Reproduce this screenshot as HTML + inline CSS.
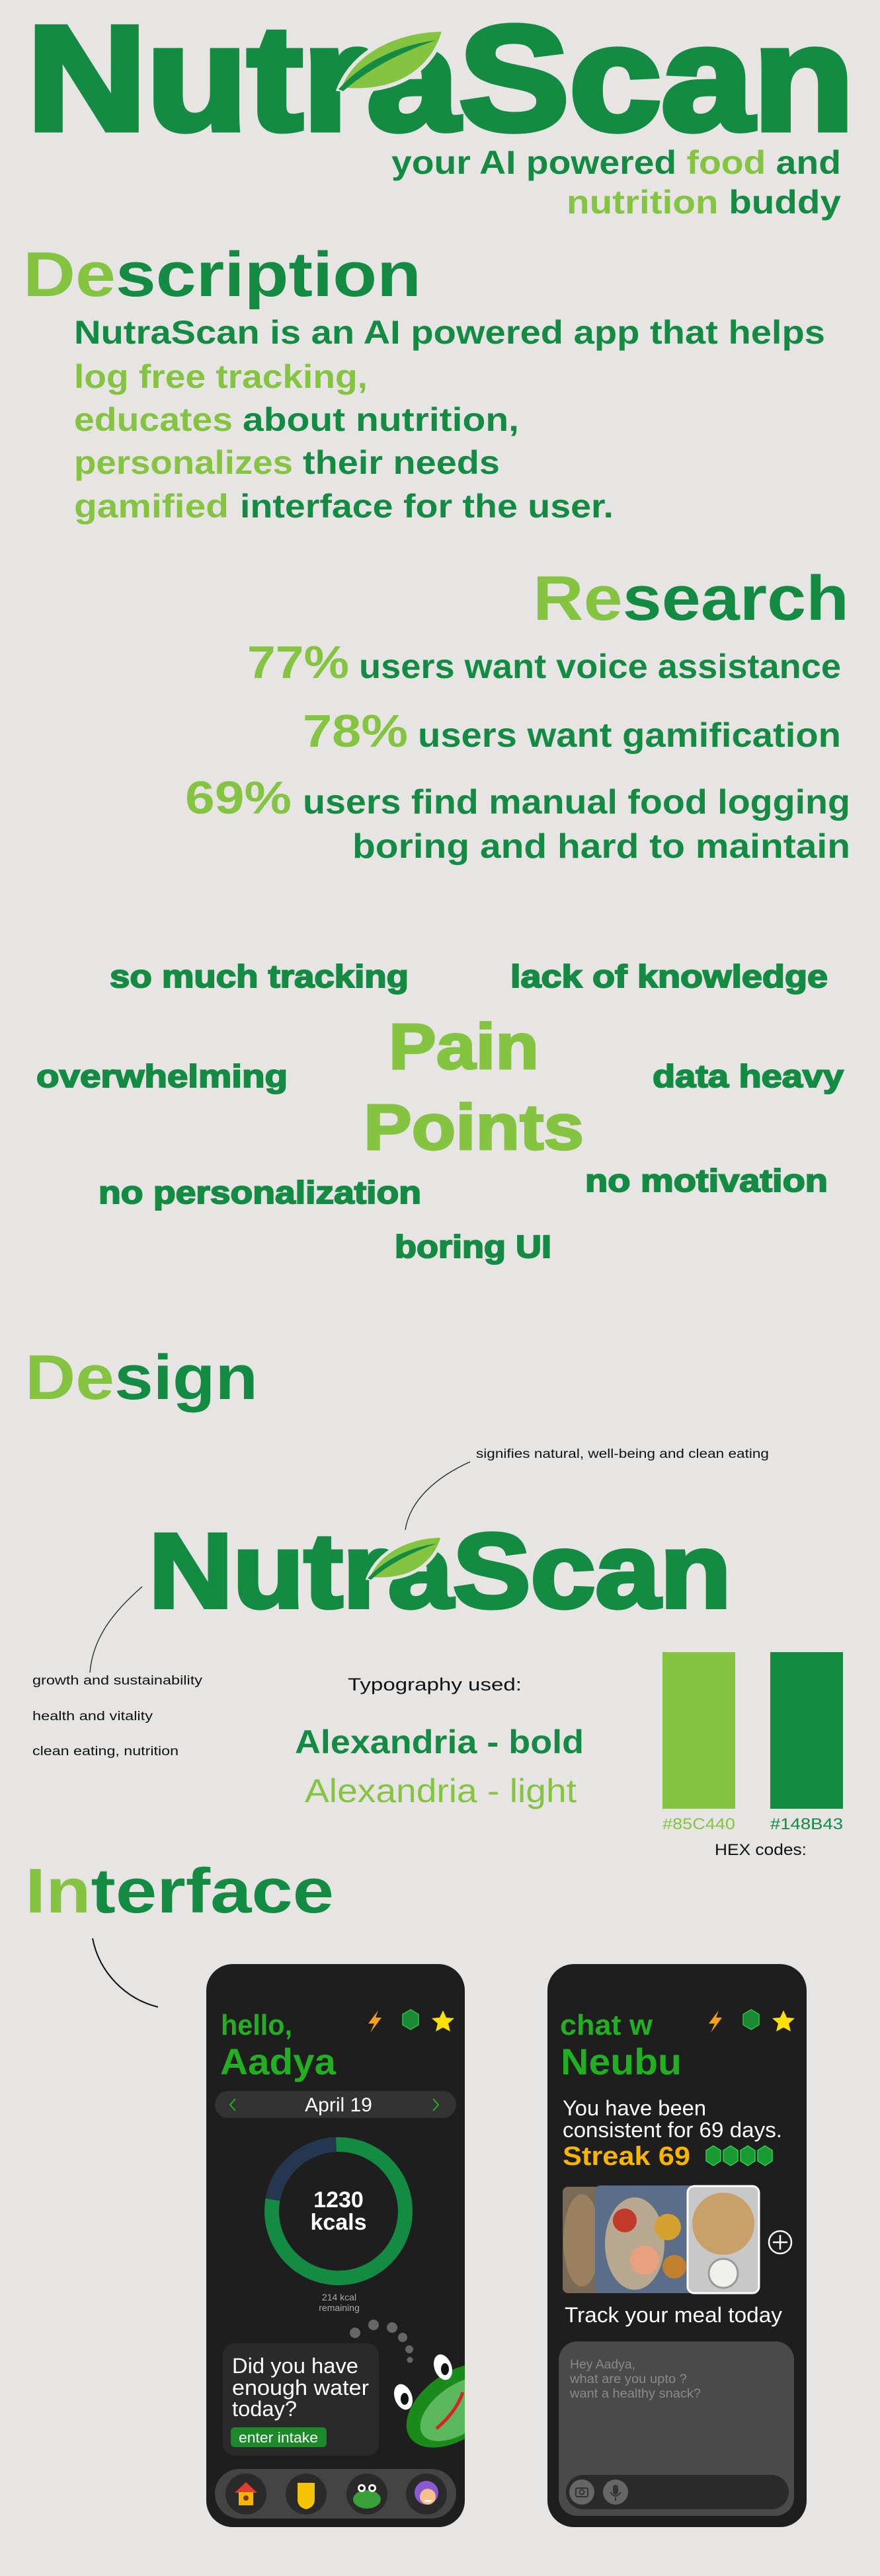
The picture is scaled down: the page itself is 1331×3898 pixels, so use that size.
<!DOCTYPE html>
<html><head><meta charset="utf-8"><style>
html,body{margin:0;padding:0;background:#e6e5e3;}
svg{display:block;}
text{font-family:"Liberation Sans",sans-serif;}
</style></head><body>
<svg width="1331" height="3898" viewBox="0 0 1331 3898" xmlns="http://www.w3.org/2000/svg">
<defs>
<clipPath id="ph1"><rect x="312" y="2972" width="391" height="852" rx="40"/></clipPath>
</defs>
<rect width="1331" height="3898" rx="30" fill="#e6e5e3"/>

<!-- LOGO -->
<g>
<text x="41" y="196" font-size="225" font-weight="bold" fill="#148B43" stroke="#148B43" stroke-width="9" textLength="1251" lengthAdjust="spacingAndGlyphs">NutraScan</text>
<g transform="translate(509,43)">
<path d="M3 92 C 25 35, 90 2, 163 2 C 147 57, 100 102, 3 92 Z" fill="#85C440" stroke="#e6e5e3" stroke-width="6"/>
<path d="M3 92 C 40 50, 95 25, 150 18 C 100 35, 50 60, 10 95 Z" fill="#148B43"/>
</g>
</g>
<text x="592" y="263" font-size="50" font-weight="bold" fill="#148B43" textLength="680" lengthAdjust="spacingAndGlyphs">your AI powered <tspan fill="#85C440">food</tspan> and</text>
<text x="857" y="323" font-size="50" font-weight="bold" fill="#148B43" textLength="415" lengthAdjust="spacingAndGlyphs"><tspan fill="#85C440">nutrition</tspan> buddy</text>

<!-- DESCRIPTION -->
<text x="35" y="448" font-size="96" font-weight="bold" fill="#148B43" textLength="602" lengthAdjust="spacingAndGlyphs"><tspan fill="#85C440">De</tspan>scription</text>
<g font-size="50" font-weight="bold">
<text x="112" y="520" fill="#148B43" textLength="1136" lengthAdjust="spacingAndGlyphs">NutraScan is an AI powered app that helps</text>
<text x="112" y="587" fill="#85C440" textLength="444" lengthAdjust="spacingAndGlyphs">log free tracking,</text>
<text x="112" y="652" fill="#85C440" textLength="240" lengthAdjust="spacingAndGlyphs">educates</text>
<text x="367" y="652" fill="#148B43" textLength="418" lengthAdjust="spacingAndGlyphs">about nutrition,</text>
<text x="112" y="717" fill="#85C440" textLength="331" lengthAdjust="spacingAndGlyphs">personalizes</text>
<text x="458" y="717" fill="#148B43" textLength="298" lengthAdjust="spacingAndGlyphs">their needs</text>
<text x="112" y="783" fill="#85C440" textLength="234" lengthAdjust="spacingAndGlyphs">gamified</text>
<text x="363" y="783" fill="#148B43" textLength="565" lengthAdjust="spacingAndGlyphs">interface for the user.</text>
</g>

<!-- RESEARCH -->
<text x="806" y="938" font-size="96" font-weight="bold" fill="#148B43" textLength="478" lengthAdjust="spacingAndGlyphs"><tspan fill="#85C440">Re</tspan>search</text>
<g font-weight="bold">
<text x="374" y="1026" font-size="70" fill="#85C440" textLength="154" lengthAdjust="spacingAndGlyphs">77%</text>
<text x="543" y="1026" font-size="52" fill="#148B43" textLength="729" lengthAdjust="spacingAndGlyphs">users want voice assistance</text>
<text x="458" y="1130" font-size="70" fill="#85C440" textLength="159" lengthAdjust="spacingAndGlyphs">78%</text>
<text x="632" y="1130" font-size="52" fill="#148B43" textLength="640" lengthAdjust="spacingAndGlyphs">users want gamification</text>
<text x="280" y="1231" font-size="70" fill="#85C440" textLength="161" lengthAdjust="spacingAndGlyphs">69%</text>
<text x="458" y="1231" font-size="52" fill="#148B43" textLength="828" lengthAdjust="spacingAndGlyphs">users find manual food logging</text>
<text x="533" y="1298" font-size="52" fill="#148B43" textLength="753" lengthAdjust="spacingAndGlyphs">boring and hard to maintain</text>
</g>

<!-- PAIN POINTS -->
<g font-weight="bold" fill="#148B43" stroke="#148B43" stroke-width="2" font-size="48">
<text x="166" y="1494" textLength="452" lengthAdjust="spacingAndGlyphs">so much tracking</text>
<text x="772" y="1494" textLength="480" lengthAdjust="spacingAndGlyphs">lack of knowledge</text>
<text x="55" y="1645" textLength="380" lengthAdjust="spacingAndGlyphs">overwhelming</text>
<text x="987" y="1645" textLength="289" lengthAdjust="spacingAndGlyphs">data heavy</text>
<text x="149" y="1821" textLength="488" lengthAdjust="spacingAndGlyphs">no personalization</text>
<text x="885" y="1803" textLength="367" lengthAdjust="spacingAndGlyphs">no motivation</text>
<text x="597" y="1903" textLength="237" lengthAdjust="spacingAndGlyphs">boring UI</text>
<text x="588" y="1617" font-size="97" fill="#85C440" stroke="#85C440" stroke-width="3" textLength="227" lengthAdjust="spacingAndGlyphs">Pain</text>
<text x="550" y="1739" font-size="97" fill="#85C440" stroke="#85C440" stroke-width="3" textLength="333" lengthAdjust="spacingAndGlyphs">Points</text>
</g>

<!-- DESIGN -->
<text x="38" y="2117" font-size="96" font-weight="bold" fill="#148B43" textLength="352" lengthAdjust="spacingAndGlyphs"><tspan fill="#85C440">De</tspan>sign</text>
<text x="720" y="2206" font-size="19" fill="#111" textLength="443" lengthAdjust="spacingAndGlyphs">signifies natural, well-being and clean eating</text>
<path d="M711 2212 C 660 2235, 620 2270, 613 2315" fill="none" stroke="#222" stroke-width="1.3"/>
<g>
<text x="225" y="2432" font-size="160" font-weight="bold" fill="#148B43" stroke="#148B43" stroke-width="6" textLength="881" lengthAdjust="spacingAndGlyphs">NutraScan</text>
<g transform="translate(554,2323) scale(0.71)">
<path d="M3 92 C 25 35, 90 2, 163 2 C 147 57, 100 102, 3 92 Z" fill="#85C440" stroke="#e6e5e3" stroke-width="7"/>
<path d="M3 92 C 40 50, 95 25, 150 18 C 100 35, 50 60, 10 95 Z" fill="#148B43"/>
</g>
</g>
<path d="M215 2401 C 170 2440, 140 2480, 136 2531" fill="none" stroke="#222" stroke-width="1.3"/>
<g font-size="19" fill="#111">
<text x="49" y="2549" textLength="257" lengthAdjust="spacingAndGlyphs">growth and sustainability</text>
<text x="49" y="2603" textLength="182" lengthAdjust="spacingAndGlyphs">health and vitality</text>
<text x="49" y="2656" textLength="221" lengthAdjust="spacingAndGlyphs">clean eating, nutrition</text>
</g>
<text x="526" y="2558" font-size="27" fill="#111" textLength="263" lengthAdjust="spacingAndGlyphs">Typography used:</text>
<text x="446" y="2653" font-size="50" font-weight="bold" fill="#148B43" textLength="437" lengthAdjust="spacingAndGlyphs">Alexandria - bold</text>
<text x="461" y="2727" font-size="50" fill="#85C440" textLength="411" lengthAdjust="spacingAndGlyphs">Alexandria - light</text>
<rect x="1002" y="2500" width="110" height="237" fill="#85C440"/>
<rect x="1165" y="2500" width="110" height="237" fill="#148B43"/>
<text x="1002" y="2768" font-size="24" fill="#85C440" textLength="110" lengthAdjust="spacingAndGlyphs">#85C440</text>
<text x="1165" y="2768" font-size="24" fill="#148B43" textLength="110" lengthAdjust="spacingAndGlyphs">#148B43</text>
<text x="1081" y="2807" font-size="24" fill="#111" textLength="139" lengthAdjust="spacingAndGlyphs">HEX codes:</text>

<!-- INTERFACE -->
<text x="38" y="2894" font-size="96" font-weight="bold" fill="#148B43" textLength="467" lengthAdjust="spacingAndGlyphs"><tspan fill="#85C440">In</tspan>terface</text>
<path d="M140 2933 C 150 2985, 190 3025, 239 3037" fill="none" stroke="#111" stroke-width="2"/>

<!-- PHONE 1 -->
<g>
<rect x="312" y="2972" width="391" height="852" rx="40" fill="#1e1e1e"/>
<text x="334" y="3079" font-size="44" font-weight="bold" fill="#22b022" textLength="108" lengthAdjust="spacingAndGlyphs">hello,</text>
<text x="333" y="3139" font-size="56" font-weight="bold" fill="#22b022" textLength="175" lengthAdjust="spacingAndGlyphs">Aadya</text>
<polygon points="572,3042 557,3062 566,3062 560,3076 577,3053 568,3053" fill="#f6a01a"/>
<polygon points="621,3041 633,3048 633,3064 621,3071 609,3064 609,3048" fill="#1a8a32" stroke="#2fbf4f" stroke-width="1.5"/>
<polygon points="670,3042 675,3053 687,3054 678,3062 681,3074 670,3068 659,3074 662,3062 653,3054 665,3053" fill="#ffe000"/>
<rect x="325" y="3164" width="365" height="41" rx="20.5" fill="#333"/>
<path d="M356 3176 L348 3185 L356 3194" fill="none" stroke="#22b022" stroke-width="2"/>
<path d="M655 3176 L663 3185 L655 3194" fill="none" stroke="#22b022" stroke-width="2"/>
<text x="512" y="3195" font-size="30" fill="#fff" text-anchor="middle">April 19</text>
<circle cx="512" cy="3346" r="101" fill="none" stroke="#148B43" stroke-width="22"/>
<path d="M412.5 3328.5 A101 101 0 0 1 508.5 3245" fill="none" stroke="#253650" stroke-width="22"/>
<text x="512" y="3340" font-size="34" font-weight="bold" fill="#fff" text-anchor="middle">1230</text>
<text x="512" y="3374" font-size="34" font-weight="bold" fill="#fff" text-anchor="middle">kcals</text>
<text x="513" y="3481" font-size="14" fill="#aaa" text-anchor="middle">214 kcal</text>
<text x="513" y="3497" font-size="14" fill="#aaa" text-anchor="middle">remaining</text>
<g fill="#666">
<circle cx="537" cy="3530" r="8"/><circle cx="565" cy="3518" r="8"/><circle cx="593" cy="3522" r="8"/><circle cx="609" cy="3537" r="7"/><circle cx="619" cy="3555" r="6"/><circle cx="620" cy="3571" r="4.5"/>
</g>
<g clip-path="url(#ph1)">
<ellipse cx="690" cy="3640" rx="85" ry="50" transform="rotate(-35 690 3640)" fill="#1a8a1a"/>
<ellipse cx="695" cy="3645" rx="68" ry="36" transform="rotate(-35 695 3645)" fill="#5cb85c"/>
<path d="M660 3675 Q 690 3650 700 3620" fill="none" stroke="#d22" stroke-width="5"/>
<ellipse cx="610" cy="3627" rx="13" ry="20" fill="#fff" transform="rotate(-20 610 3627)"/>
<ellipse cx="612" cy="3630" rx="6" ry="9" fill="#111"/>
<ellipse cx="670" cy="3582" rx="13" ry="20" fill="#fff" transform="rotate(-20 670 3582)"/>
<ellipse cx="673" cy="3585" rx="6" ry="9" fill="#111"/>
</g>
<rect x="337" y="3546" width="236" height="170" rx="18" fill="#2a2a2a"/>
<g font-size="32" fill="#fff">
<text x="351" y="3591" textLength="191" lengthAdjust="spacingAndGlyphs">Did you have</text>
<text x="351" y="3624" textLength="207" lengthAdjust="spacingAndGlyphs">enough water</text>
<text x="351" y="3656" textLength="98" lengthAdjust="spacingAndGlyphs">today?</text>
</g>
<rect x="349" y="3673" width="145" height="30" rx="6" fill="#1a8a2a"/>
<text x="361" y="3696" font-size="22" fill="#fff" textLength="120" lengthAdjust="spacingAndGlyphs">enter intake</text>
<rect x="325" y="3736" width="365" height="75" rx="37" fill="#444"/>
<g><circle cx="372" cy="3774" r="31" fill="#2a2a2a"/><polygon points="372,3756 389,3772 355,3772" fill="#e53b2c"/><rect x="361" y="3771" width="22" height="20" fill="#f7b500"/><circle cx="372" cy="3780" r="4" fill="#7a3b10"/></g>
<g><circle cx="463" cy="3774" r="31" fill="#2a2a2a"/><path d="M450 3757 H476 V3782 Q476 3794 463 3797 Q450 3794 450 3782 Z" fill="#f5c400"/></g>
<g><circle cx="555" cy="3774" r="31" fill="#2a2a2a"/><ellipse cx="555" cy="3782" rx="21" ry="14" fill="#3aa03a"/><circle cx="547" cy="3765" r="6" fill="#fff"/><circle cx="563" cy="3765" r="6" fill="#fff"/><circle cx="547" cy="3765" r="3" fill="#111"/><circle cx="563" cy="3765" r="3" fill="#111"/></g>
<g><circle cx="645" cy="3774" r="31" fill="#2a2a2a"/><circle cx="645" cy="3772" r="18" fill="#8a5ad0"/><circle cx="647" cy="3778" r="12" fill="#f5c08a"/><path d="M640 3783 Q647 3790 654 3783" fill="#fff"/></g>
</g>

<!-- PHONE 2 -->
<g>
<rect x="828" y="2972" width="392" height="852" rx="40" fill="#1e1e1e"/>
<text x="847" y="3079" font-size="44" font-weight="bold" fill="#22b022" textLength="140" lengthAdjust="spacingAndGlyphs">chat w</text>
<text x="848" y="3139" font-size="56" font-weight="bold" fill="#22b022" textLength="183" lengthAdjust="spacingAndGlyphs">Neubu</text>
<polygon points="1087,3042 1072,3062 1081,3062 1075,3076 1092,3053 1083,3053" fill="#f6a01a"/>
<polygon points="1136,3041 1148,3048 1148,3064 1136,3071 1124,3064 1124,3048" fill="#1a8a32" stroke="#2fbf4f" stroke-width="1.5"/>
<polygon points="1185,3042 1190,3053 1202,3054 1193,3062 1196,3074 1185,3068 1174,3074 1177,3062 1168,3054 1180,3053" fill="#ffe000"/>
<text x="851" y="3201" font-size="32" fill="#fff" textLength="217" lengthAdjust="spacingAndGlyphs">You have been</text>
<text x="851" y="3234" font-size="32" fill="#fff" textLength="332" lengthAdjust="spacingAndGlyphs">consistent for 69 days.</text>
<text x="851" y="3276" font-size="40" font-weight="bold" fill="#f7b500" textLength="193" lengthAdjust="spacingAndGlyphs">Streak 69</text>
<g fill="#1a9a32" stroke="#2fcf4f" stroke-width="1.5">
<polygon points="1079,3247 1090,3254 1090,3270 1079,3277 1068,3270 1068,3254"/>
<polygon points="1105,3247 1116,3254 1116,3270 1105,3277 1094,3270 1094,3254"/>
<polygon points="1131,3247 1142,3254 1142,3270 1131,3277 1120,3270 1120,3254"/>
<polygon points="1157,3247 1168,3254 1168,3270 1157,3277 1146,3270 1146,3254"/>
</g>
<g>
<rect x="851" y="3309" width="130" height="161" rx="8" fill="#7a6a55"/>
<ellipse cx="880" cy="3390" rx="28" ry="70" fill="#9a8060"/>
<rect x="900" y="3307" width="150" height="163" rx="8" fill="#5a6e8a"/>
<ellipse cx="960" cy="3395" rx="45" ry="70" fill="#b8a890"/>
<circle cx="945" cy="3360" r="18" fill="#c0392b"/>
<circle cx="975" cy="3420" r="22" fill="#e8a080"/>
<circle cx="1010" cy="3370" r="20" fill="#d4a030"/>
<circle cx="1020" cy="3430" r="18" fill="#c08030"/>
<rect x="1040" y="3308" width="108" height="162" rx="10" fill="#c8c8c8" stroke="#fff" stroke-width="3"/>
<circle cx="1094" cy="3365" r="47" fill="#c9a06a"/>
<circle cx="1094" cy="3440" r="22" fill="#f0f0ec" stroke="#999" stroke-width="3"/>
</g>
<g>
<circle cx="1180" cy="3393" r="17" fill="none" stroke="#fff" stroke-width="2.5"/>
<path d="M1169 3393 H1191 M1180 3382 V3404" stroke="#fff" stroke-width="2.5"/>
</g>
<text x="854" y="3514" font-size="32" fill="#fff" textLength="329" lengthAdjust="spacingAndGlyphs">Track your meal today</text>
<rect x="845" y="3543" width="356" height="264" rx="28" fill="#4a4a4a"/>
<g font-size="19" fill="#8a8a8a">
<text x="862" y="3584" textLength="99" lengthAdjust="spacingAndGlyphs">Hey Aadya,</text>
<text x="862" y="3606" textLength="177" lengthAdjust="spacingAndGlyphs">what are you upto ?</text>
<text x="862" y="3628" textLength="198" lengthAdjust="spacingAndGlyphs">want a healthy snack?</text>
</g>
<rect x="856" y="3745" width="337" height="52" rx="26" fill="#2a2a2a"/>
<g><circle cx="880" cy="3771" r="19" fill="#666"/><rect x="871" y="3765" width="18" height="13" rx="2" fill="none" stroke="#333" stroke-width="2"/><circle cx="880" cy="3771" r="3.5" fill="none" stroke="#333" stroke-width="2"/></g>
<g><circle cx="931" cy="3771" r="19" fill="#666"/><rect x="927" y="3760" width="8" height="15" rx="4" fill="#333"/><path d="M923 3771 Q931 3783 939 3771 M931 3779 V3784" fill="none" stroke="#333" stroke-width="2"/></g>
</g>
</svg>
</body></html>
